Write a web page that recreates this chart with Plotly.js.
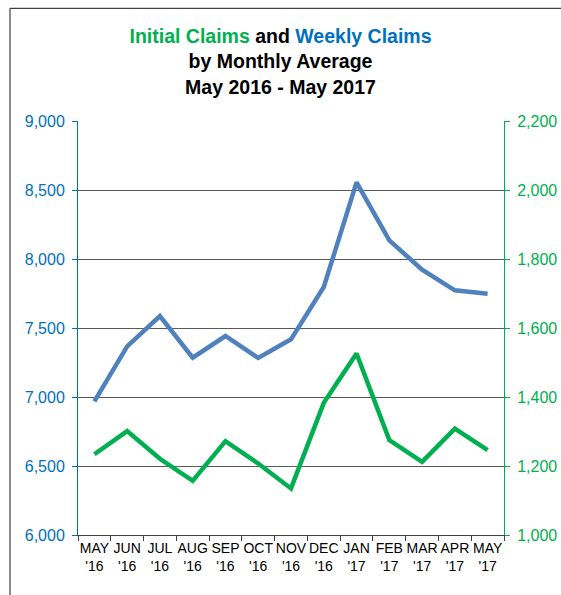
<!DOCTYPE html>
<html>
<head>
<meta charset="utf-8">
<script src="https://cdn.plot.ly/plotly-3.0.1.min.js"></script>
<style>
html,body{margin:0;padding:0;background:#fff;}
#chart{width:561px;height:595px;}
</style>
</head>
<body>
<div id="chart"></div>
<script>
const months = ["MAY","JUN","JUL","AUG","SEP","OCT","NOV","DEC","JAN","FEB","MAR","APR","MAY"];
const years = ["'16","'16","'16","'16","'16","'16","'16","'16","'17","'17","'17","'17","'17"];
const weeklyClaims = [6969, 7367, 7587, 7285, 7442, 7283, 7418, 7797, 8555, 8135, 7923, 7773, 7749];
const initialClaims = [1234, 1301, 1221, 1157, 1272, 1207, 1135, 1383, 1526, 1275, 1212, 1308, 1246];
const leftTicks = [6000, 6500, 7000, 7500, 8000, 8500, 9000];
const rightTicks = [1000, 1200, 1400, 1600, 1800, 2000, 2200];

const cats = months.map((m, i) => m + "<br>" + years[i]);
const fontFam = "Liberation Sans, Arial, sans-serif";
const BLUE_LINE = "#4F81BD";
const GREEN = "#00B050";
const BLUE_TXT = "#0070C0";

const traces = [
  {x: cats, y: weeklyClaims, type: "scatter", mode: "lines", yaxis: "y",
   line: {color: BLUE_LINE, width: 4.5}, hoverinfo: "skip"},
  {x: cats, y: initialClaims, type: "scatter", mode: "lines", yaxis: "y2",
   line: {color: GREEN, width: 4.5}, hoverinfo: "skip"}
];

const layout = {
  width: 561, height: 595,
  margin: {l: 78, r: 57, t: 121, b: 60, pad: 0},
  paper_bgcolor: "#fff", plot_bgcolor: "#fff",
  showlegend: false,
  font: {family: fontFam, color: "#000"},
  title: {
    text: '<span style="color:' + GREEN + '">Initial Claims</span> and <span style="color:' + BLUE_TXT + '">Weekly Claims</span><br>by Monthly Average<br>May 2016 - May 2017',
    font: {family: fontFam, size: 19.5, color: "#000", weight: "bold"},
    x: 0.5, xanchor: "center", y: 1 - 43/595, yanchor: "top"
  },
  xaxis: {
    type: "category",
    range: [-0.5, 12.5],
    tickson: "boundaries",
    ticks: "outside", ticklen: 5, tickcolor: "#404040",
    showline: true, linecolor: "#404040", linewidth: 1,
    showgrid: false, zeroline: false,
    tickfont: {family: fontFam, size: 14, color: "#000"},
    tickangle: 0,
    fixedrange: true
  },
  yaxis: {
    range: [6000, 9000],
    tickvals: leftTicks,
    tickformat: ",d",
    ticks: "outside", ticklen: 5, tickcolor: BLUE_TXT,
    showline: true, linecolor: BLUE_TXT, linewidth: 1,
    showgrid: true, gridcolor: "#595959", gridwidth: 1,
    zeroline: false,
    tickfont: {family: fontFam, size: 16, color: BLUE_TXT},
    ticklabelstandoff: 4,
    fixedrange: true
  },
  yaxis2: {
    range: [1000, 2200],
    tickvals: rightTicks,
    tickformat: ",d",
    overlaying: "y", side: "right",
    ticks: "outside", ticklen: 5, tickcolor: GREEN,
    showline: true, linecolor: GREEN, linewidth: 1,
    showgrid: false, zeroline: false,
    tickfont: {family: fontFam, size: 16, color: GREEN},
    ticklabelstandoff: 4,
    fixedrange: true
  },
  shapes: [
    {type: "line", xref: "paper", yref: "paper",
     x0: (10 - 78) / 426, x1: (10 - 78) / 426, y0: (534.7 - 8) / 414, y1: -0.3,
     line: {color: "#404040", width: 1.2}},
    {type: "line", xref: "paper", yref: "paper",
     x0: (10 - 78) / 426, x1: 1.3, y0: (534.7 - 8) / 414, y1: (534.7 - 8) / 414,
     line: {color: "#404040", width: 1.2}}
  ]
};

Plotly.newPlot("chart", traces, layout, {displayModeBar: false, staticPlot: true});
</script>
</body>
</html>
